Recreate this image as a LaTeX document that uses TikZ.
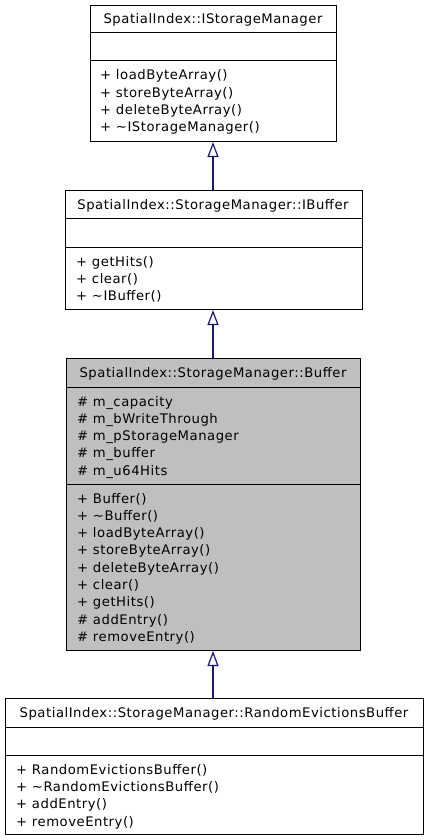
\documentclass[tikz,border=0pt]{standalone}
\usepackage{fontspec}
\newfontfamily\umlfont[LetterSpace=4]{DejaVu Sans}
\usetikzlibrary{arrows.meta}
\definecolor{edgeblue}{HTML}{191970}
\definecolor{classgray}{HTML}{BFBFBF}
\begin{document}
\begin{tikzpicture}[x=1pt,y=-1pt,
  umlbox/.style={draw=black,line width=1pt,anchor=north west,inner sep=0pt},
  member/.style={anchor=base west,inner sep=0pt,font=\umlfont\fontsize{13.2}{16}\selectfont},
  classname/.style={anchor=base,inner sep=0pt,font=\umlfont\fontsize{13.2}{16}\selectfont},
  divider/.style={line width=1pt},
  inherit/.style={draw=edgeblue,line width=1.2pt,-{Triangle[open,length=15pt,width=11pt]}}]
\useasboundingbox (0,0) rectangle (427,840);
\fill[white] (0,0) rectangle (427,840);

% --- IStorageManager ---
\node[umlbox,minimum width=246pt,minimum height=136pt] (ism) at (90,5) {};
\node[classname] (ismt) at (213,24) {SpatialIndex::IStorageManager};
\draw[divider] (90,33) -- (336,33) (90,61) -- (336,61);
\foreach \t [count=\i] in {+ loadByteArray(),+ storeByteArray(),+ deleteByteArray(),+ \textasciitilde IStorageManager()}
  \node[member] (ismm\i) at (100,{80+17.33*(\i-1)}) {\t};

% --- IBuffer ---
\node[umlbox,minimum width=297pt,minimum height=119pt] (ibuf) at (65,190) {};
\node[classname] (ibuft) at (213,209) {SpatialIndex::StorageManager::IBuffer};
\draw[divider] (65,218) -- (362,218) (65,247) -- (362,247);
\foreach \t [count=\i] in {+ getHits(),+ clear(),+ \textasciitilde IBuffer()}
  \node[member] (ibufm\i) at (76,{266+17.33*(\i-1)}) {\t};

% --- Buffer ---
\node[umlbox,fill=classgray,minimum width=294pt,minimum height=292pt] (buf) at (66,358) {};
\node[classname] (buft) at (213,377) {SpatialIndex::StorageManager::Buffer};
\draw[divider] (66,387) -- (360,387) (66,484) -- (360,484);
\foreach \t [count=\i] in {\# m\_capacity,\# m\_bWriteThrough,\# m\_pStorageManager,\# m\_buffer,\# m\_u64Hits}
  \node[member] (bufa\i) at (77,{406+17.33*(\i-1)}) {\t};
\foreach \t [count=\i] in {+ Buffer(),+ \textasciitilde Buffer(),+ loadByteArray(),+ storeByteArray(),+ deleteByteArray(),+ clear(),+ getHits(),\# addEntry(),\# removeEntry()}
  \node[member] (bufm\i) at (77,{503+17.33*(\i-1)}) {\t};

% --- RandomEvictionsBuffer ---
\node[umlbox,minimum width=418pt,minimum height=136pt] (reb) at (5,698) {};
\node[classname] (rebt) at (214,717) {SpatialIndex::StorageManager::RandomEvictionsBuffer};
\draw[divider] (5,727) -- (423,727) (5,755) -- (423,755);
\foreach \t [count=\i] in {+ RandomEvictionsBuffer(),+ \textasciitilde RandomEvictionsBuffer(),+ addEntry(),+ removeEntry()}
  \node[member] (rebm\i) at (16,{774+17.33*(\i-1)}) {\t};

% --- generalisation edges ---
\draw[inherit] (ibuf.north -| ismt) -- (ism.south -| ismt);
\draw[inherit] (buf.north -| ismt) -- (ibuf.south -| ismt);
\draw[inherit] (reb.north -| ismt) -- (buf.south -| ismt);
\end{tikzpicture}
\end{document}
